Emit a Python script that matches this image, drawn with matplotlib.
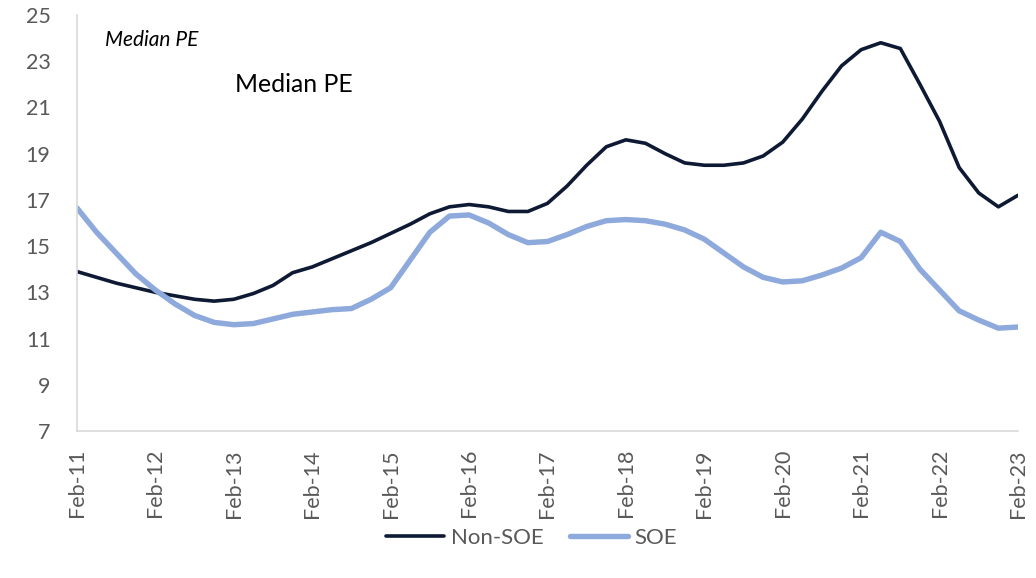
import matplotlib.pyplot as plt

# quarterly readings, months since Feb-11
months = list(range(0, 145, 3))

non_soe = [13.9, 13.65, 13.4, 13.2, 13.0, 12.85, 12.7, 12.62, 12.7, 12.95, 13.3, 13.85,
           14.1, 14.45, 14.8, 15.15, 15.55, 15.95, 16.4, 16.7, 16.8, 16.7, 16.5, 16.5,
           16.85, 17.6, 18.5, 19.3, 19.6, 19.45, 19.0, 18.6, 18.5, 18.5, 18.6, 18.9,
           19.5, 20.5, 21.7, 22.8, 23.5, 23.8, 23.55, 22.0, 20.4, 18.4, 17.3, 16.7, 17.2]

soe = [16.65, 15.6, 14.7, 13.8, 13.1, 12.5, 12.0, 11.7, 11.6, 11.65, 11.85, 12.05,
       12.15, 12.25, 12.3, 12.7, 13.2, 14.4, 15.6, 16.3, 16.35, 16.0, 15.5, 15.15,
       15.2, 15.5, 15.85, 16.1, 16.15, 16.1, 15.95, 15.7, 15.3, 14.7, 14.1, 13.65,
       13.45, 13.5, 13.75, 14.05, 14.5, 15.6, 15.2, 14.0, 13.1, 12.2, 11.8, 11.45, 11.5]

tick_labels = ["Feb-11", "Feb-12", "Feb-13", "Feb-14", "Feb-15", "Feb-16", "Feb-17",
               "Feb-18", "Feb-19", "Feb-20", "Feb-21", "Feb-22", "Feb-23"]

plt.rcParams['font.family'] = ['Lato', 'DejaVu Sans']

fig = plt.figure(figsize=(10.36, 5.78), dpi=100)
ax = fig.add_axes([0.0743, 0.2543, 0.9083, 0.7197])

ax.plot(months, non_soe, color='#0E1A33', lw=2.6, label='Non-SOE',
        solid_capstyle='round', solid_joinstyle='round')
ax.plot(months, soe, color='#8EA9DB', lw=3.9, label='SOE',
        solid_capstyle='round', solid_joinstyle='round')

ax.set_xlim(0, 144)
ax.set_ylim(7, 25)
ax.set_yticks(range(7, 26, 2))
ax.set_xticks(range(0, 145, 12))
ax.set_xticklabels(tick_labels, rotation=90)
ax.tick_params(axis='both', length=0, labelsize=15.5, labelcolor='#595959')
ax.tick_params(axis='x', pad=13)
ax.tick_params(axis='y', pad=19)

for s in ['top', 'right']:
    ax.spines[s].set_visible(False)
for s in ['left', 'bottom']:
    ax.spines[s].set_color('#D9D9D9')
    ax.spines[s].set_linewidth(1.2)

fig.text(105 / 1036, 1 - 40 / 578, 'Median PE', fontsize=15, style='italic', va='center')
fig.text(235 / 1036, 1 - 84 / 578, 'Median PE', fontsize=17.8, va='center')

fig.legend(loc='center', bbox_to_anchor=(0.513, 1 - 538 / 578), ncol=2, frameon=False,
           fontsize=16, handlelength=2.6, columnspacing=1.2, handletextpad=0.3,
           labelcolor='#595959')

plt.savefig('out.png', dpi=100)
